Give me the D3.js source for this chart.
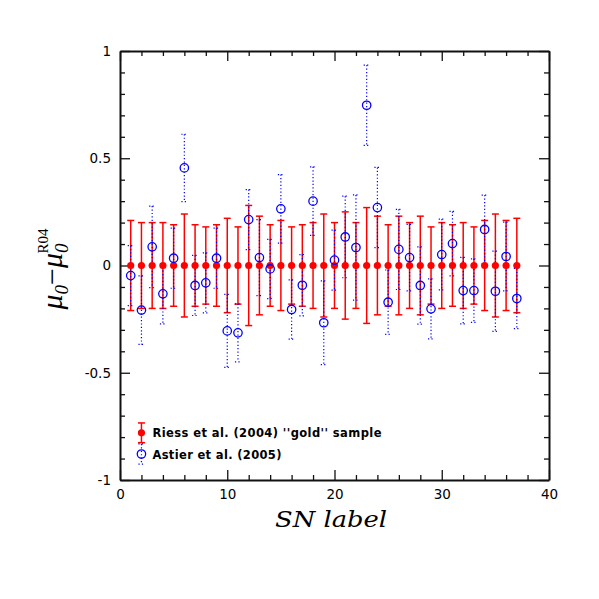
<!DOCTYPE html>
<html>
<head>
<meta charset="utf-8">
<script src="https://cdn.jsdelivr.net/npm/d3@7"></script>
<style>
  body { margin: 0; background: #fff; }
  .tick text { font-family: "DejaVu Sans", sans-serif; font-size: 13.5px; fill: #000; }
  .domain { stroke: #111; stroke-width: 2; }
  .tick line { stroke: #111; stroke-width: 1.3; }
</style>
</head>
<body>
<div class="chart"></div>
<script>
// SN labels (x)
const snLabel = [1, 2, 3, 4, 5, 6, 7, 8, 9, 10, 11, 12, 13, 14, 15, 16, 17, 18, 19,
  20, 21, 22, 23, 24, 25, 26, 27, 28, 29, 30, 31, 32, 33, 34, 35, 36, 37];

// Riess et al. (2004) "gold" sample: all at zero, with errors
const riessVal = [0, 0, 0, 0, 0, 0, 0, 0, 0, 0, 0, 0, 0, 0, 0, 0, 0, 0, 0,
  0, 0, 0, 0, 0, 0, 0, 0, 0, 0, 0, 0, 0, 0, 0, 0, 0, 0];
const riessErr = [0.21, 0.20, 0.20, 0.20, 0.19, 0.24, 0.19, 0.18, 0.19, 0.22, 0.18, 0.28,
  0.23, 0.19, 0.21, 0.18, 0.19, 0.20, 0.24, 0.20, 0.25, 0.20, 0.27, 0.23, 0.19, 0.23,
  0.20, 0.23, 0.18, 0.20, 0.19, 0.20, 0.18, 0.21, 0.24, 0.21, 0.22];

// Astier et al. (2005)
const astierVal = [-0.047, -0.208, 0.087, -0.132, 0.034, 0.455, -0.093, -0.081, 0.034,
  -0.305, -0.314, 0.214, 0.037, -0.016, 0.264, -0.205, -0.092, 0.300, -0.267, 0.025,
  0.133, 0.084, 0.747, 0.270, -0.171, 0.075, 0.037, -0.093, -0.202, 0.051, 0.102,
  -0.117, -0.117, 0.168, -0.120, 0.042, -0.154];
const astierErr = [0.14, 0.16, 0.19, 0.14, 0.14, 0.157, 0.14, 0.14, 0.14, 0.17, 0.135,
  0.14, 0.177, 0.138, 0.16, 0.138, 0.143, 0.16, 0.195, 0.14, 0.19, 0.245, 0.187, 0.187,
  0.15, 0.187, 0.155, 0.18, 0.14, 0.165, 0.15, 0.155, 0.148, 0.16, 0.187, 0.16, 0.14];

// axis ticks
const xMajor = [0, 10, 20, 30, 40];
const xMinor = [2, 4, 6, 8, 12, 14, 16, 18, 22, 24, 26, 28, 32, 34, 36, 38];
const yMajor = [-1, -0.5, 0, 0.5, 1];
const yMinor = [-0.9, -0.8, -0.7, -0.6, -0.4, -0.3, -0.2, -0.1,
  0.1, 0.2, 0.3, 0.4, 0.6, 0.7, 0.8, 0.9];

// legend
const legendNames = ["Riess et al. (2004) ''gold'' sample", "Astier et al. (2005)"];
const legendX = [2, 2];
const legendY = [-0.78, -0.879];
const legendErr = [0.046, 0.047];

const w = 599;
const h = 599;
const mLeft = 120, mRight = 549, mTop = 51, mBottom = 480;

const svg = d3.select(".chart").append("svg").attr("width", w).attr("height", h);

const x = d3.scaleLinear().domain([0, 40]).range([mLeft, mRight]);
const y = d3.scaleLinear().domain([-1, 1]).range([mBottom, mTop]);

const fmt = (d) => String(d);
const noLabel = () => "";

// axes, ticks pointing inward on all four sides
const addAxis = (axis, tx, ty, vals, size, labels) => {
  return svg.append("g").attr("transform", `translate(${tx},${ty})`)
    .call(axis.tickValues(vals).tickSizeInner(size).tickSizeOuter(0)
      .tickPadding(9).tickFormat(labels ? fmt : noLabel));
};
addAxis(d3.axisBottom(x), 0, mBottom, xMajor, -10, true);
addAxis(d3.axisBottom(x), 0, mBottom, xMinor, -5, false).select(".domain").remove();
addAxis(d3.axisTop(x), 0, mTop, xMajor, -10, false);
addAxis(d3.axisTop(x), 0, mTop, xMinor, -5, false).select(".domain").remove();
addAxis(d3.axisLeft(y), mLeft, 0, yMajor, -10, true);
addAxis(d3.axisLeft(y), mLeft, 0, yMinor, -5, false).select(".domain").remove();
addAxis(d3.axisRight(y), mRight, 0, yMajor, -10, false);
addAxis(d3.axisRight(y), mRight, 0, yMinor, -5, false).select(".domain").remove();

const riess = snLabel.map((s, i) => ({ x: s, v: riessVal[i], e: riessErr[i] }));
const astier = snLabel.map((s, i) => ({ x: s, v: astierVal[i], e: astierErr[i] }));

const errBars = (data, color, dash, capW, width) => {
  const g = svg.append("g").attr("stroke", color).attr("stroke-width", width)
    .attr("stroke-dasharray", dash).attr("fill", "none");
  g.selectAll(".v").data(data).enter().append("line")
    .attr("x1", (d) => x(d.x)).attr("x2", (d) => x(d.x))
    .attr("y1", (d) => y(d.v + d.e)).attr("y2", (d) => y(d.v - d.e));
  g.selectAll(".t").data(data).enter().append("line")
    .attr("x1", (d) => x(d.x) - capW).attr("x2", (d) => x(d.x) + capW)
    .attr("y1", (d) => y(d.v + d.e)).attr("y2", (d) => y(d.v + d.e));
  g.selectAll(".b").data(data).enter().append("line")
    .attr("x1", (d) => x(d.x) - capW).attr("x2", (d) => x(d.x) + capW)
    .attr("y1", (d) => y(d.v - d.e)).attr("y2", (d) => y(d.v - d.e));
};

const legendRiess = [{ x: legendX[0], v: legendY[0], e: legendErr[0] }];
const legendAstier = [{ x: legendX[1], v: legendY[1], e: legendErr[1] }];

errBars(riess.concat(legendRiess), "#ff0000", null, 3.5, 1.5);
errBars(astier.concat(legendAstier), "#0000ff", "1.2,2.2", 3, 1.2);

svg.append("g").selectAll("circle").data(riess.concat(legendRiess)).enter()
  .append("circle")
  .attr("cx", (d) => x(d.x)).attr("cy", (d) => y(d.v))
  .attr("r", 3.6).attr("fill", "#ff0000");

svg.append("g").selectAll("circle").data(astier.concat(legendAstier)).enter()
  .append("circle")
  .attr("cx", (d) => x(d.x)).attr("cy", (d) => y(d.v))
  .attr("r", 4.2).attr("fill", "none").attr("stroke", "#0000ff").attr("stroke-width", 1.3);

const legendLen = [229, 129];
svg.append("g").selectAll("text").data(legendNames).enter().append("text")
  .attr("x", (d, i) => x(legendX[i]) + 11)
  .attr("y", (d, i) => y(legendY[i]) + 4.5)
  .attr("textLength", (d, i) => legendLen[i])
  .attr("lengthAdjust", "spacing")
  .style("font-family", "'DejaVu Sans', sans-serif")
  .style("font-size", "11.5px")
  .style("font-weight", "bold")
  .text((d) => d);

// axis titles
svg.append("text")
  .attr("x", 331).attr("y", 527)
  .attr("text-anchor", "middle")
  .attr("textLength", 112).attr("lengthAdjust", "spacingAndGlyphs")
  .style("font-family", "'DejaVu Serif', serif").style("font-style", "italic")
  .style("font-size", "22px")
  .text("SN label");

const yl = svg.append("text")
  .attr("transform", `translate(62,269) rotate(-90)`)
  .attr("text-anchor", "middle")
  .style("font-family", "'Liberation Serif', serif").style("font-style", "italic")
  .style("font-size", "30px");
yl.append("tspan").text("μ");
yl.append("tspan").attr("dy", 6).style("font-size", "19px").text("0");
yl.append("tspan").attr("dy", -6).style("font-style", "normal").text("−");
yl.append("tspan").text("μ");
yl.append("tspan").attr("dy", 6).style("font-size", "19px").text("0");
yl.append("tspan").attr("dx", -10).attr("dy", -20).style("font-size", "15px")
  .style("font-style", "normal").text("R04");
</script>
</body>
</html>
